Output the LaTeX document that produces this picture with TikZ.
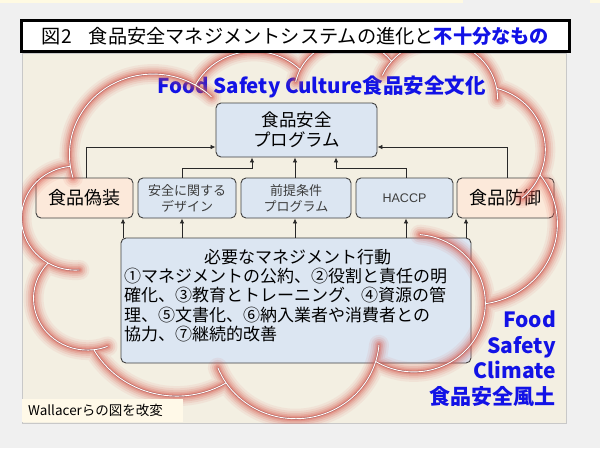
\documentclass[tikz,border=0pt]{standalone}
\usepackage{fontspec}
\setmainfont{Noto Sans CJK JP}
\newfontfamily\hfont{Liberation Sans}
\usetikzlibrary{arrows.meta}
\definecolor{bgout}{RGB}{240,240,240}
\definecolor{topband}{RGB}{255,250,226}
\definecolor{panel}{RGB}{243,239,226}
\definecolor{panelline}{RGB}{200,200,200}
\definecolor{boxblue}{RGB}{220,230,242}
\definecolor{boxpeach}{RGB}{252,233,218}
\definecolor{boxline}{RGB}{64,64,64}
\definecolor{connline}{RGB}{40,40,40}
\definecolor{txtblue}{RGB}{18,18,230}
\definecolor{softtxt}{RGB}{60,60,60}
\definecolor{glowcol}{RGB}{215,85,75}
\definecolor{glowedge}{RGB}{165,95,95}
\definecolor{cream}{RGB}{255,249,232}
\newcommand\fsz[2]{\fontsize{#1pt}{#2pt}\selectfont}
% ---- PowerPoint-like cloud outline, computed once ----
\newcommand\cldsx{0.012384}
\newcommand\cldsy{0.008736}
\newcommand\cldxo{21.9}
\newcommand\cldyo{39.6}
\gdef\cloudpaths{}
\newcommand\cldangles[4]{%
  \pgfmathsetmacro\clda{atan2((#1)*sin(#3),(#2)*cos(#3))}%
  \pgfmathsetmacro\cldb{atan2((#1)*sin((#3)+(#4)),(#2)*cos((#3)+(#4)))}%
  \pgfmathsetmacro\cldd{\cldb-\clda}%
  \pgfmathsetmacro\cldd{\cldd+360*((#4)>0)*(\cldd<0)-360*((#4)<0)*(\cldd>0)}%
  \pgfmathsetmacro\cldrx{(#1)*\cldsx}%
  \pgfmathsetmacro\cldry{(#2)*\cldsy}%
  \pgfmathsetmacro\cldA{0-(\clda)}%
  \pgfmathsetmacro\cldD{0-(\cldd)}%
}
\newcommand\cldstart[2]{%
  \pgfmathsetmacro\cldpx{\cldxo+(#1)*\cldsx}%
  \pgfmathsetmacro\cldpy{\cldyo+(#2)*\cldsy}%
  \xdef\cloudpaths{\cloudpaths (\cldpx,\cldpy)}%
}
\newcommand\cldarc[5]{% id wR hR st sw
  \cldangles{#2}{#3}{#4}{#5}%
  \pgfmathsetmacro\cldCx{\cldpx-\cldrx*cos(\clda)}%
  \pgfmathsetmacro\cldCy{\cldpy-\cldry*sin(\clda)}%
  \expandafter\xdef\csname cldcx#1\endcsname{\cldCx}%
  \expandafter\xdef\csname cldcy#1\endcsname{\cldCy}%
  \pgfmathsetmacro\cldpx{\cldCx+\cldrx*cos(\cldb)}%
  \pgfmathsetmacro\cldpy{\cldCy+\cldry*sin(\cldb)}%
  \xdef\cloudpaths{\cloudpaths arc[start angle=\cldA, delta angle=\cldD, x radius=\cldrx pt, y radius=\cldry pt]}%
}
\newcommand\cldinner[5]{% id wR hR st sw
  \cldangles{#2}{#3}{#4}{#5}%
  \edef\cldtcx{\csname cldcx#1\endcsname}%
  \edef\cldtcy{\csname cldcy#1\endcsname}%
  \pgfmathsetmacro\cldsxp{\cldtcx+\cldrx*cos(\clda)}%
  \pgfmathsetmacro\cldsyp{\cldtcy+\cldry*sin(\clda)}%
  \xdef\cloudpaths{\cloudpaths (\cldsxp,\cldsyp) arc[start angle=\cldA, delta angle=\cldD, x radius=\cldrx pt, y radius=\cldry pt]}%
}
\cldstart{3900}{14370}
\cldarc{1}{6753}{9190}{-190.487483}{123.780533}
\cldarc{2}{5333}{7267}{-144.102383}{89.945233}
\cldarc{3}{4365}{5945}{-145.807917}{99.723017}
\cldarc{4}{4857}{6595}{-130.986067}{117.241733}
\cldarc{5}{5333}{7273}{-78.708883}{109.026917}
\cldarc{6}{6775}{9220}{-46.26725}{130.269}
\cldarc{7}{5785}{7867}{0.625017}{114.033333}
\cldarc{8}{6752}{9215}{22.4516}{115.17255}
\cldarc{9}{7720}{10543}{66.242633}{75.711017}
\cldarc{10}{4360}{5918}{-274.942083}{146.735567}
\cldarc{11}{4345}{5945}{-246.8285}{152.51885}
\xdef\cloudpaths{\cloudpaths -- cycle}
\cldinner{11}{4345}{5945}{86.742}{26.4295}
\cldinner{10}{4360}{5918}{73.610467}{11.447467}
\cldinner{8}{6752}{9215}{137.62415}{14.0811}
\cldinner{8}{6752}{9215}{6.453267}{15.99835}
\cldinner{7}{5785}{7867}{-86.32725}{86.952267}
\cldinner{5}{5333}{7273}{30.318033}{27.7515}
\cldinner{4}{4857}{6595}{-13.744333}{14.8589}
\cldinner{4}{4857}{6595}{-149.18145}{18.195367}
\cldinner{3}{4365}{5945}{-163.494267}{17.68635}
\cldinner{1}{6753}{9190}{-66.70695}{12.31935}
\cldinner{1}{6753}{9190}{157.65435}{11.858167}
\tikzset{
  nbox/.style={draw=boxline, line width=0.9pt, rounded corners=5pt, inner sep=0pt, align=center},
  bluebox/.style={nbox, fill=boxblue},
  peachbox/.style={nbox, fill=boxpeach},
  conn/.style={draw=connline, line width=0.8pt, -{Latex[length=5pt,width=4.5pt]}},
  bluetext/.style={text=txtblue, font=\bfseries\fsz{21}{25.7}, inner sep=0pt},
}
\begin{document}
\begin{tikzpicture}[x=1pt,y=-1pt]
\useasboundingbox (0,0) rectangle (600,448);
\fill[bgout] (0,0) rectangle (600,448);
\fill[topband] (0,0) rectangle (463,2.5);
\fill[topband] (590,0) rectangle (600,2.5);
\filldraw[fill=panel, draw=panelline, line width=0.6pt] (22,53) rectangle (566,423);

% boxes
\node[bluebox, minimum width=161pt, minimum height=54pt, font=\fsz{17.5}{20}] (prog) at (296.5,130) {食品安全\\プログラム};
\node[peachbox, minimum width=97pt, minimum height=40pt, font=\fsz{18}{22}] (fake) at (84.5,198) {食品偽装};
\node[bluebox, minimum width=98pt, minimum height=40pt, font=\fsz{13}{16}, text=softtxt] (design) at (187,198) {安全に関する\\デザイン};
\node[bluebox, minimum width=110pt, minimum height=40pt, font=\fsz{13}{16}, text=softtxt] (prereq) at (296,198) {前提条件\\プログラム};
\node[bluebox, minimum width=97pt, minimum height=40pt, font=\hfont\fsz{12.5}{15}, text=softtxt] (haccp) at (404.5,198) {HACCP};
\node[peachbox, minimum width=97pt, minimum height=40pt, font=\fsz{18}{22}] (defense) at (505.5,198) {食品防御};
\node[bluebox, minimum width=350pt, minimum height=125pt] (mgmt) at (296,300.5) {};
\node[font=\fsz{17}{19.4}, align=left, inner sep=0pt, anchor=west] (mgmttxt) at (124,295.5) {\hspace*{80pt}必要なマネジメント行動\\①マネジメントの公約、②役割と責任の明\\確化、③教育とトレーニング、④資源の管\\理、⑤文書化、⑥納入業者や消費者との\\協力、⑦継続的改善};

% connectors
\coordinate (xa) at (123,0);
\coordinate (xb) at (182,0);
\coordinate (xc) at (295,0);
\coordinate (xd) at (406,0);
\coordinate (xe) at (466,0);
\coordinate (xf) at (86,0);
\coordinate (xg) at (507,0);
\coordinate (xj) at (252,0);
\coordinate (xk) at (336,0);
\coordinate (yh) at (0,147);
\coordinate (yi) at (0,168);
\draw[conn] (mgmt.north -| xa) -- (fake.south -| xa);
\draw[conn] (mgmt.north -| xb) -- (design.south -| xb);
\draw[conn] (mgmt.north -| xc) -- (prereq.south -| xc);
\draw[conn] (mgmt.north -| xd) -- (haccp.south -| xd);
\draw[conn] (mgmt.north -| xe) -- (defense.south -| xe);
\draw[conn] (fake.north -| xf) |- (prog.west |- yh);
\draw[conn] (design.north -| xb) |- (xj |- yi) -- (prog.south -| xj);
\draw[conn] (prereq.north -| xc) -- (prog.south -| xc);
\draw[conn] (haccp.north -| xd) |- (xk |- yi) -- (prog.south -| xk);
\draw[conn] (defense.north -| xg) |- (prog.east |- yh);

% blue labels
\node[bluetext, font=\bfseries\fsz{20.5}{25}] (culture) at (321.5,87) {Food Safety Culture食品安全文化};
\node[bluetext, align=right, anchor=east] (climate) at (556,358.5) {Food\\Safety\\Climate\\食品安全風土};

% cloud with glow
\begin{scope}
\clip (22,53) rectangle (566,423);
\foreach \w/\o in {20/0.08,15.5/0.11,11.5/0.15,8/0.19,5/0.24,3/0.26}{
  \draw[glowcol, line width=\w pt, draw opacity=\o, line join=round, line cap=round] \cloudpaths;
}
\draw[glowedge, line width=1.7pt, line join=round] \cloudpaths;
\draw[white, line width=0.9pt, line join=round] \cloudpaths;
\end{scope}

% title
\node[draw=black, line width=3pt, fill=white, minimum width=548pt, minimum height=31pt, inner sep=0pt, font=\fsz{19.2}{22}] (title) at (295.5,36) {図2\hspace{0.9em}食品安全マネジメントシステムの進化と{\bfseries\color{txtblue}不十分なもの}};

% source note
\node[fill=cream, minimum height=23pt, text width=149pt, inner xsep=6pt, inner ysep=0pt, align=left, anchor=north west, font=\fsz{13.5}{16}] (src) at (22,399) {Wallacerらの図を改変};
\end{tikzpicture}
\end{document}
